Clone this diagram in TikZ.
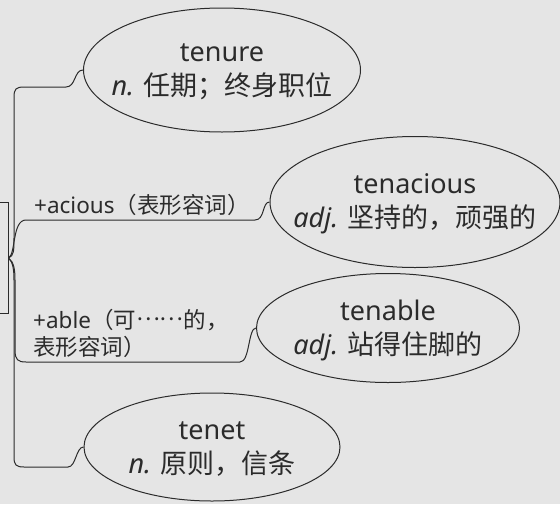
\documentclass[tikz,border=0pt]{standalone}
\usepackage{fontspec}
\setmainfont{Noto Sans}
\newfontfamily\cjk{Noto Sans CJK SC}
\usetikzlibrary{shapes.geometric}
\definecolor{bg}{HTML}{E5E5E5}
\definecolor{ink}{HTML}{2B2B2B}

\begin{document}
\begin{tikzpicture}[x=1pt, y=-1pt,
    word/.style={ellipse, draw=ink, line width=1pt, inner sep=0pt},
    wordtext/.style={text=ink, align=center, inner sep=0pt, font=\fontsize{27}{34}\selectfont},
    branch/.style={draw=ink, line width=1pt},
    affix/.style={text=ink, inner sep=0pt, anchor=west, align=left, font=\fontsize{22.5}{27}\selectfont}]
        \fill[bg] (0,0) rectangle (560,504);
        \clip (0,0) rectangle (560,504);
        \node[draw=ink, line width=1pt, minimum width=60pt, minimum height=111pt] (root) at (-22,258) {};
        \coordinate (fork) at (root.east);

        \node[word, minimum width=277pt, minimum height=124pt] (tenure) at (222,70) {};
        \node[wordtext] (tenure-txt) at ([yshift=-2pt]tenure) {tenure\\{\itshape n.} {\cjk 任期；终身职位}};
        \node[word, minimum width=290pt, minimum height=131pt] (tenacious) at (415,202) {};
        \node[wordtext] (tenacious-txt) at ([yshift=-2pt]tenacious) {tenacious\\{\itshape adj.} {\cjk 坚持的，顽强的}};
        \node[word, minimum width=263pt, minimum height=109pt] (tenable) at (388,328) {};
        \node[wordtext] (tenable-txt) at ([yshift=-2pt]tenable) {tenable\\{\itshape adj.} {\cjk 站得住脚的}};
        \node[word, minimum width=256pt, minimum height=108pt] (tenet) at (212,447) {};
        \node[wordtext] (tenet-txt) at ([yshift=-2pt]tenet) {tenet\\{\itshape n.} {\cjk 原则，信条}};

        \node[affix] (acious) at (34,205) {+acious{\cjk （表形容词）}};
        \node[affix] (able) at (33,333) {+able{\cjk （可\raisebox{0.33em}{……}的，}\\{\cjk 表形容词）}};

        \draw[branch] (fork) .. controls (14,256) and (14,250) .. (14,238) -- (14,97)
            .. controls (14,89) and (16,87) .. (24,87) -- (66,87)
            .. controls (76,87) and (74,70) .. (tenure.west);
        \draw[branch] (fork) .. controls (16,254) and (12,220) .. (26,220) -- (255,220)
            .. controls (265,220) and (262,202) .. (tenacious.west);
        \draw[branch] (fork) .. controls (14,262) and (15,270) .. (15,280) -- (15,350)
            .. controls (15,360) and (18,362) .. (26,362) -- (240,362)
            .. controls (250,362) and (248,328) .. (tenable.west);
        \draw[branch] (fork) .. controls (13,262) and (14,270) .. (14,280) -- (14,457)
            .. controls (14,465) and (16,467) .. (24,467) -- (68,467)
            .. controls (76,467) and (76,447) .. (tenet.west);
      \end{tikzpicture}
\end{document}
